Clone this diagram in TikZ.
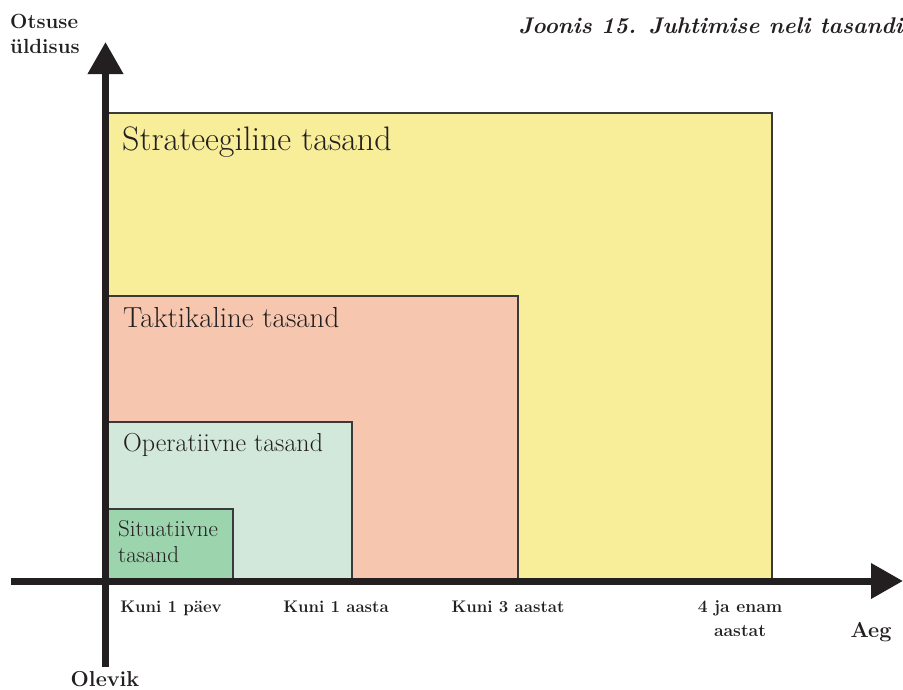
\documentclass[tikz,border=0pt]{standalone}
\usepackage{fontspec}
\usetikzlibrary{arrows.meta}
\definecolor{stratcol}{HTML}{F8EE9A}
\definecolor{taktcol}{HTML}{F7C6AF}
\definecolor{opercol}{HTML}{D2E8DA}
\definecolor{situcol}{HTML}{9CD4AE}
\definecolor{edgecol}{HTML}{3A3A3A}
\definecolor{inkcol}{HTML}{231F20}
\begin{document}
\begin{tikzpicture}[x=1pt,y=-1pt,
  level/.style={draw=edgecol,line width=1.1pt,inner sep=0pt,outer sep=0pt,anchor=south west},
  levellabel/.style={anchor=base west,inner sep=0pt,text=inkcol},
  axislabel/.style={inner sep=0pt,text=inkcol,font=\bfseries\fontsize{16.8}{24}\selectfont},
  axisline/.style={line width=7pt,draw=inkcol,-{Triangle[length=32pt,width=34pt]}}]
\useasboundingbox (0,0) rectangle (903,689);

% nested levels, largest first
\node[level,fill=stratcol,minimum width=668pt,minimum height=468pt] (strat) at (104,581) {};
\node[level,fill=taktcol,minimum width=414pt,minimum height=285pt] (takt) at (104,581) {};
\node[level,fill=opercol,minimum width=248pt,minimum height=159pt] (oper) at (104,581) {};
\node[level,fill=situcol,minimum width=129pt,minimum height=72pt] (situ) at (104,581) {};

% level names (multi-line nodes sit on their last baseline)
\node[levellabel,font=\fontsize{34}{38}\selectfont] (stratlbl) at (122,150) {Strateegiline tasand};
\node[levellabel,font=\fontsize{29}{32}\selectfont] (taktlbl) at (123,327) {Taktikaline tasand};
\node[levellabel,font=\fontsize{26}{28}\selectfont] (operlbl) at (123,451) {Operatiivne tasand};
\node[levellabel,font=\fontsize{23}{26}\selectfont,align=left] (situlbl) at (118,562) {Situatiivne\\tasand};

% axes
\coordinate (ybot) at (105.5,667);
\coordinate (ytop) at (105.5,42);
\coordinate (xleft) at (11,581);
\coordinate (xright) at (903,581);
\draw[axisline] (ybot) -- (ytop);
\draw[axisline] (xleft) -- (xright);

% axis texts
\node[axislabel,anchor=base west,align=left,font=\bfseries\fontsize{20.5}{25}\selectfont] (ylbl) at (10,53) {Otsuse\\üldisus};
\node[axislabel,anchor=base,font=\bfseries\fontsize{21.6}{24}\selectfont] (xlbl) at (871,637) {Aeg};
\node[axislabel,anchor=base,font=\bfseries\fontsize{21.6}{24}\selectfont] (origin) at (105,686) {Olevik};
\node[axislabel,anchor=base] (t1) at (171,612) {Kuni 1 päev};
\node[axislabel,anchor=base] (t2) at (336,612) {Kuni 1 aasta};
\node[axislabel,anchor=base] (t3) at (508,612) {Kuni 3 aastat};
\node[axislabel,anchor=base,align=center,font=\bfseries\fontsize{17.5}{24}\selectfont] (t4) at (740,636) {4 ja enam\\aastat};

% caption
\node[anchor=base east,inner sep=0pt,text=inkcol,font=\bfseries\itshape\fontsize{22.7}{26}\selectfont] (title) at (903,33) {Joonis 15. Juhtimise neli tasandi};
\end{tikzpicture}
\end{document}
